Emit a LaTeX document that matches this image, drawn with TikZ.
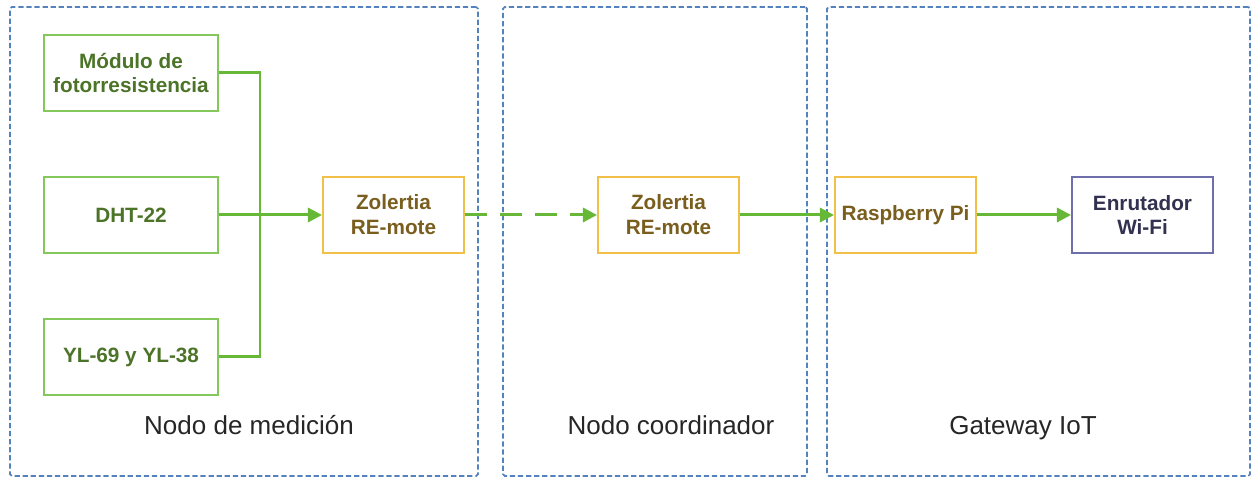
\documentclass[tikz,border=0pt]{standalone}
\usepackage{fontspec}
\setmainfont{Liberation Sans}
\usetikzlibrary{arrows.meta}
\definecolor{grupo}{RGB}{84,130,188}
\definecolor{sensor}{RGB}{132,200,92}
\definecolor{sensortxt}{RGB}{76,116,40}
\definecolor{mote}{RGB}{240,192,72}
\definecolor{motetxt}{RGB}{122,94,30}
\definecolor{red}{RGB}{110,110,170}
\definecolor{redtxt}{RGB}{50,50,80}
\definecolor{enlace}{RGB}{104,184,56}
\begin{document}
\begin{tikzpicture}[scale=1.0,
  grp/.style={draw=grupo, line width=1pt, dash pattern=on 3pt off 1.6pt, rounded corners=1pt, minimum width=#1, minimum height=9.38cm},
  sens/.style={draw=sensor, line width=1.1pt, minimum width=3.48cm, minimum height=1.52cm, text=sensortxt, align=center, font=\fontsize{11.8}{14.2}\selectfont\bfseries},
  mot/.style={draw=mote, line width=1.1pt, minimum width=2.82cm, minimum height=1.52cm, text=motetxt, align=center, font=\fontsize{11.8}{14.2}\selectfont\bfseries},
  rtr/.style={draw=red, line width=1.1pt, minimum width=2.82cm, minimum height=1.52cm, text=redtxt, align=center, font=\fontsize{11.8}{14.2}\selectfont\bfseries},
  lbl/.style={anchor=base, font=\fontsize{14.8}{17}\selectfont, text=black!85},
  link/.style={draw=enlace, line width=1.7pt, -{Triangle[length=8pt,width=8pt]}}]
\useasboundingbox (0,0) rectangle (25.16,9.56);

% grupos
\node[grp=9.36cm] (medicion) at (4.88,4.73) {};
\node[grp=6.08cm] (coordinador) at (13.10,4.73) {};
\node[grp=8.46cm] (gateway) at (20.77,4.73) {};

\node[sens] (modulo) at (2.62,8.10) {Módulo de\\fotorresistencia};
\node[sens] (dht) at (2.62,5.26) {DHT-22};
\node[sens] (yl) at (2.62,2.42) {YL-69 y YL-38};
\node[mot] (zol1) at (7.87,5.26) {Zolertia\\RE-mote};
\node[mot] (zol2) at (13.37,5.26) {Zolertia\\RE-mote};
\node[mot] (rasp) at (18.11,5.26) {Raspberry Pi};
\node[rtr] (router) at (22.85,5.26) {Enrutador\\Wi-Fi};

\node[lbl] (lmed) at (4.98,0.87) {Nodo de medición};
\node[lbl] (lcoord) at (13.42,0.87) {Nodo coordinador};
\node[lbl] (lgate) at (20.46,0.87) {Gateway IoT};

\coordinate (bus) at (5.20,5.26);
\path[draw=enlace,line width=1.7pt] (modulo.east) -| (bus) |- (yl.east);
\path[link] (dht) -- (zol1);
\path[link,dash pattern=on 12.5pt off 7.5pt] (zol1) -- (zol2);
\path[link] (zol2) -- (rasp);
\path[link] (rasp) -- (router);
\end{tikzpicture}
\end{document}
